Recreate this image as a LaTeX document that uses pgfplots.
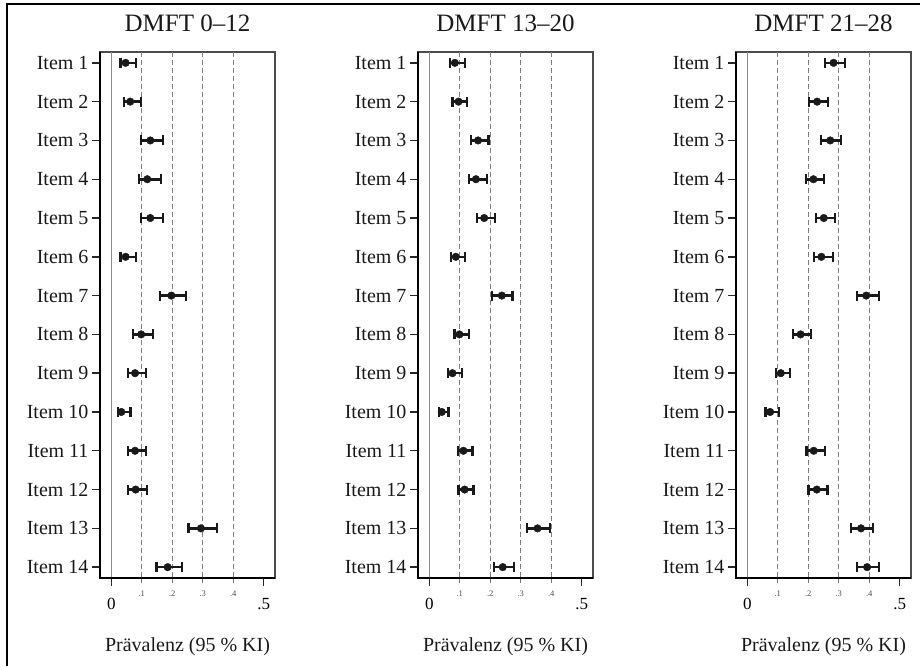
\documentclass[border=0pt]{standalone}
\usepackage{pgfplots}
\pgfplotsset{compat=1.18}
\usepackage{pgfplotstable}
\usepackage{fontspec}
\setmainfont{Liberation Serif}

\pgfplotstableread{
i m lo hi
1 0.047 0.030 0.080
2 0.062 0.042 0.098
3 0.128 0.097 0.170
4 0.118 0.090 0.162
5 0.128 0.097 0.170
6 0.047 0.030 0.080
7 0.197 0.160 0.244
8 0.098 0.071 0.138
9 0.078 0.054 0.113
10 0.033 0.021 0.063
11 0.078 0.054 0.113
12 0.080 0.056 0.116
13 0.294 0.253 0.348
14 0.185 0.148 0.233
}\tabA

\pgfplotstableread{
i m lo hi
1 0.084 0.069 0.117
2 0.096 0.076 0.124
3 0.160 0.138 0.194
4 0.153 0.131 0.189
5 0.180 0.156 0.216
6 0.087 0.071 0.117
7 0.238 0.207 0.273
8 0.099 0.083 0.130
9 0.076 0.062 0.106
10 0.041 0.031 0.063
11 0.112 0.093 0.142
12 0.116 0.096 0.145
13 0.355 0.321 0.395
14 0.241 0.212 0.278
}\tabB

\pgfplotstableread{
i m lo hi
1 0.283 0.254 0.321
2 0.229 0.203 0.264
3 0.272 0.243 0.307
4 0.217 0.192 0.252
5 0.251 0.225 0.289
6 0.243 0.218 0.281
7 0.390 0.359 0.431
8 0.175 0.151 0.210
9 0.110 0.094 0.141
10 0.075 0.060 0.104
11 0.218 0.194 0.255
12 0.228 0.201 0.263
13 0.373 0.341 0.413
14 0.393 0.361 0.431
}\tabC

\pgfplotsset{
  panel/.style={
    scale only axis, width=175pt, height=526pt,
    anchor=south west,
    xmin=-0.037, xmax=0.537, ymin=0.72, ymax=14.28, y dir=reverse,
    clip=false,
    /pgf/number format/assume math mode=true,
    ytick={1,...,14},
    yticklabels={Item 1,Item 2,Item 3,Item 4,Item 5,Item 6,Item 7,Item 8,Item 9,Item 10,Item 11,Item 12,Item 13,Item 14},
    xtick={0,0.5}, xticklabels={0,.5},
    extra x ticks={0.1,0.2,0.3,0.4},
    extra x tick labels={.1,.2,.3,.4},
    extra x tick style={grid=major,
      major grid style={draw=black!50, line width=1.2pt, dash pattern=on 5pt off 3pt},
      major tick length=5pt,
      tick style={draw=black!55, line width=1pt},
      xticklabel style={font=\fontsize{8.5}{8.5}\selectfont, text=black!70, anchor=base, yshift=10pt}},
    tick align=outside, xtick pos=bottom, ytick pos=left,
    major tick length=8pt,
    tick style={line width=1.4pt, black!85},
    axis line style={draw=black!70, line width=1.2pt},
    xticklabel style={font=\fontsize{17}{17}\selectfont, anchor=base, yshift=-23pt},
    yticklabel style={font=\fontsize{20}{20}\selectfont, text=black!90},
    title style={font=\fontsize{25}{25}\selectfont, at={(0.5,1)}, anchor=base, yshift=14pt, text=black!90},
    xlabel style={font=\fontsize{20}{20}\selectfont, at={(0.5,0)}, anchor=base, yshift=-73pt, text=black!90},
    xlabel={Prävalenz (95 \% KI)},
  },
  ci/.style={black!90, only marks, mark=*, mark size=3.8pt,
    error bars/.cd, x dir=both, x explicit,
    error mark=|,
    error bar style={line width=2.6pt, black!90},
    error mark options={line width=2.2pt, mark size=5pt, black!90}},
}

\newcommand\panelbody[1]{%
  \draw[black!45, line width=1.5pt] (axis cs:0,0.72) -- (axis cs:0,14.28);
  \addplot[ci] table[x=m, y=i,
     x error plus expr=\thisrow{hi}-\thisrow{m},
     x error minus expr=\thisrow{m}-\thisrow{lo}] {#1};
  \draw[black, line width=2.6pt] (axis description cs:0,1) -- (axis description cs:0,0) -- (axis description cs:1,0);
}

\begin{document}
\begin{tikzpicture}[x=1pt,y=1pt]
\useasboundingbox (0,0) rectangle (920,666);
\draw[black, line width=2pt] (7,0) -- (7,662) -- (920,662);

\begin{axis}[panel, at={(100pt,88pt)}, title={DMFT 0–12}]
\panelbody{\tabA}
\end{axis}

\begin{axis}[panel, at={(418pt,88pt)}, title={DMFT 13–20}]
\panelbody{\tabB}
\end{axis}

\begin{axis}[panel, at={(736pt,88pt)}, title={DMFT 21–28}]
\panelbody{\tabC}
\end{axis}
\end{tikzpicture}
\end{document}
